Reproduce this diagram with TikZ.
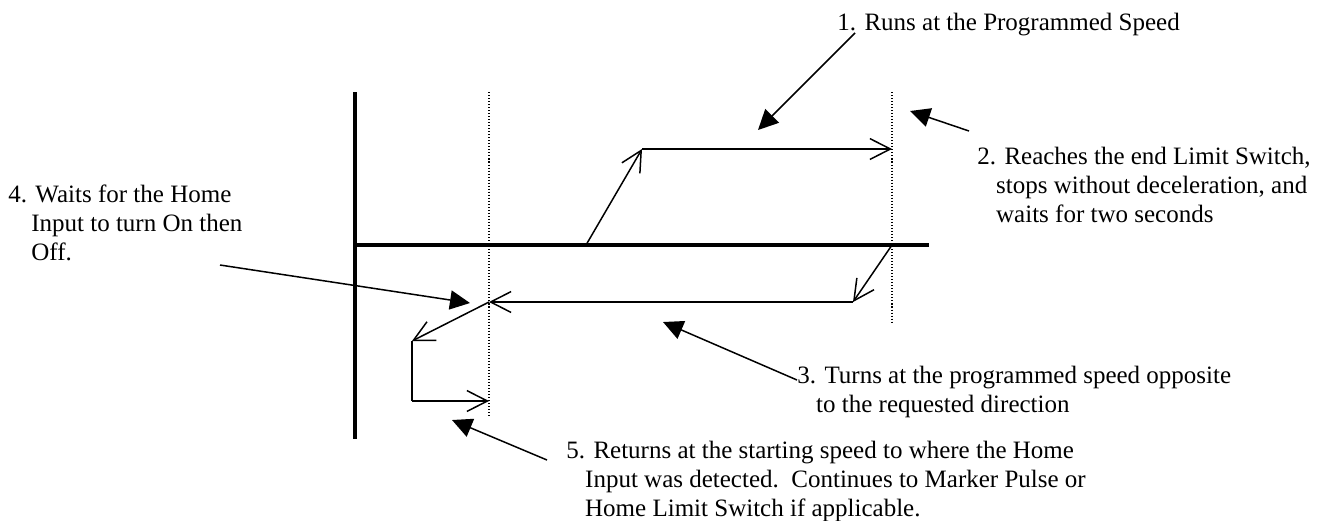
\documentclass[tikz,border=0pt]{standalone}
\usepackage{fontspec}
\setmainfont{Liberation Serif}
\usetikzlibrary{arrows.meta}
\tikzset{
  axisline/.style={line width=1.8pt},
  guideline/.style={line width=0.6pt, dash pattern=on 0.5pt off 0.95pt},
  moveline/.style={line width=0.72pt, -{Straight Barb[length=9.8pt,width=10pt,line width=0.72pt]}},
  plainline/.style={line width=0.72pt},
  noteline/.style={line width=0.72pt, -{Triangle[length=9.6pt,width=9.2pt]}},
  notetext/.style={inner sep=0pt, anchor=base west, font=\fontsize{12}{14}\selectfont}
}
\newcommand{\notelines}[1]{\begin{tabular}[t]{@{}l@{}}#1\end{tabular}}
\newcommand{\ind}{\hspace*{9pt}}
\begin{document}
\begin{tikzpicture}[x=0.48pt,y=-0.48pt]
\useasboundingbox (0,0) rectangle (1317,520);
% axes
\coordinate (vtop) at (355,92);
\coordinate (vbot) at (355,439);
\coordinate (hleft) at (355,245);
\coordinate (hright) at (929,245);
\draw[axisline] (vtop) -- (vbot);
\draw[axisline] (hleft) -- (hright);
% dotted guides
\coordinate (dLt) at (489,92);
\coordinate (dLb) at (489,418);
\coordinate (dRt) at (892,92);
\coordinate (dRb) at (892,322);
\draw[guideline] (dLt) -- (dLb);
\draw[guideline] (dRt) -- (dRb);
% motion path
\coordinate (p0) at (586,245);
\coordinate (p1) at (642,149);
\coordinate (p2) at (892,149);
\coordinate (p3) at (892,245);
\coordinate (p4) at (853,302);
\coordinate (p5) at (489,302);
\coordinate (p6) at (412,341);
\coordinate (p7) at (412,401);
\coordinate (p8) at (489,401);
\draw[moveline] (p0) -- (p1);
\draw[moveline] (p1) -- (p2);
\draw[moveline] (p3) -- (p4);
\draw[moveline] (p4) -- (p5);
\draw[moveline] (p5) -- (p6);
\draw[plainline] (p6) -- (p7);
\draw[moveline] (p7) -- (p8);
% labels
\node[notetext] (t1) at (837,30) {\notelines{1. Runs at the Programmed Speed}};
\node[notetext] (t2) at (977,164) {\notelines{2. Reaches the end Limit Switch,\\ \ind stops without deceleration, and\\ \ind waits for two seconds}};
\node[notetext] (t3) at (797,383) {\notelines{3. Turns at the programmed speed opposite\\ \ind to the requested direction}};
\node[notetext] (t4) at (8,202) {\notelines{4. Waits for the Home\\ \hspace*{11pt}Input to turn On then\\ \hspace*{11pt}Off.}};
\node[notetext] (t5) at (566,458) {\notelines{5. Returns at the starting speed to where the Home\\ \ind Input was detected.\ \ Continues to Marker Pulse or\\ \ind Home Limit Switch if applicable.}};
% annotation arrows
\coordinate (a1s) at (855,33);
\coordinate (a1e) at (758,130);
\coordinate (a2s) at (969,131);
\coordinate (a2e) at (910,111);
\coordinate (a3s) at (797,380);
\coordinate (a3e) at (663,322);
\coordinate (a4s) at (220,265);
\coordinate (a4e) at (470,303);
\coordinate (a5s) at (547,460);
\coordinate (a5e) at (452,420);
\draw[noteline] (a1s) -- (a1e);
\draw[noteline] (a2s) -- (a2e);
\draw[noteline] (a3s) -- (a3e);
\draw[noteline] (a4s) -- (a4e);
\draw[noteline] (a5s) -- (a5e);
\end{tikzpicture}
\end{document}
